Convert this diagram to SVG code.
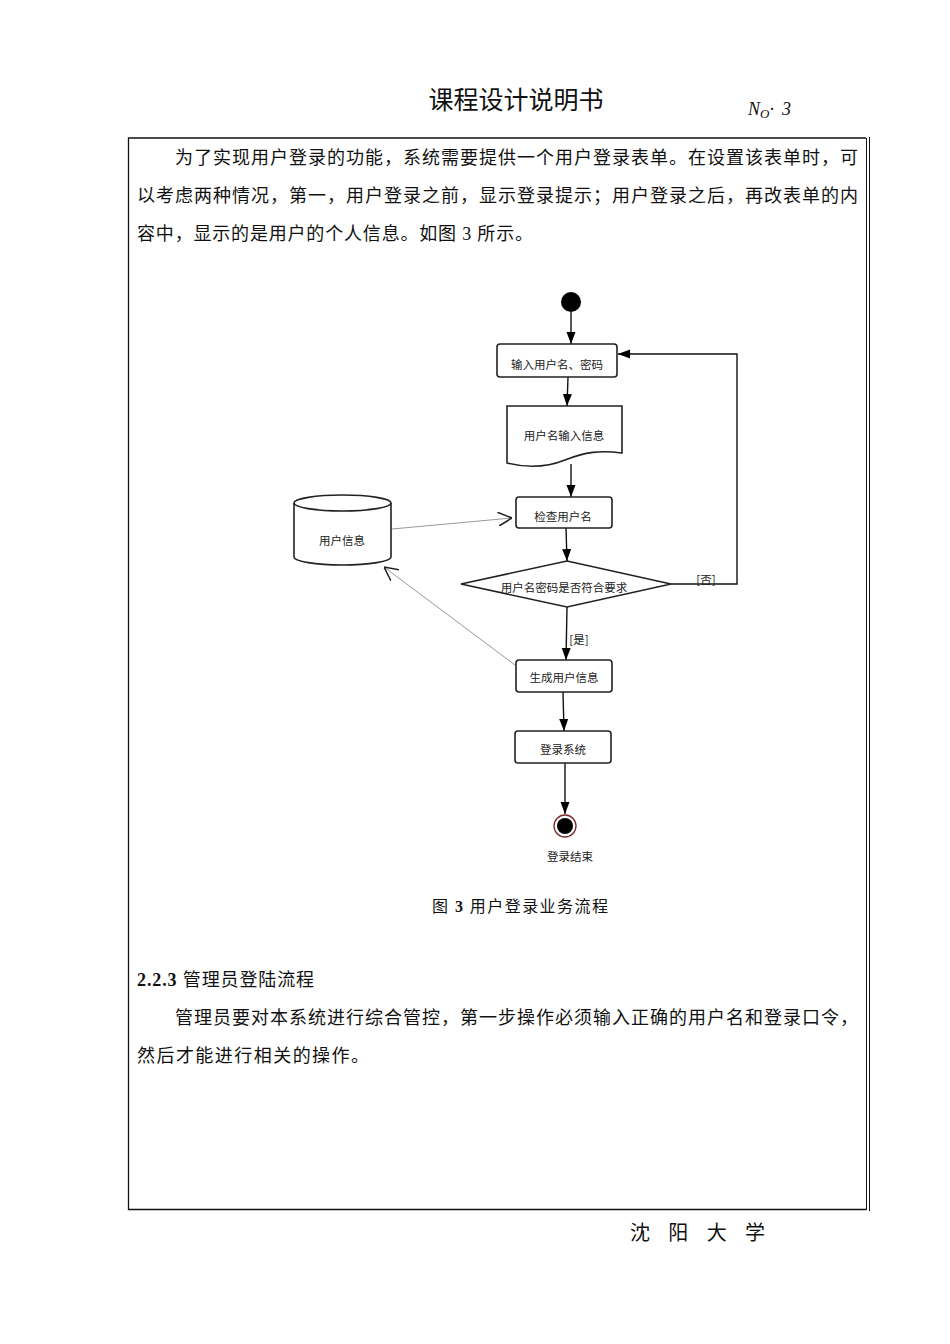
<svg xmlns="http://www.w3.org/2000/svg" width="950" height="1344" viewBox="0 0 950 1344">
<style>
.t{font-family:"Liberation Serif","Noto Sans CJK SC",serif;fill:#111}
.body{font-size:18px}
.d{font-family:"Noto Sans CJK SC","Liberation Sans",sans-serif;font-size:11.5px;fill:#222;text-anchor:middle}
.box{fill:#fff;stroke:#222;stroke-width:1.6}
.ln{fill:none;stroke:#111;stroke-width:1.4}
.gl{fill:none;stroke:#999;stroke-width:1}
</style>
<defs>
<marker id="ah" viewBox="0 0 12 10" refX="12" refY="5" markerWidth="12" markerHeight="10" orient="auto" markerUnits="userSpaceOnUse">
<path d="M0,0.5 L12,5 L0,9.5 z" fill="#000"/>
</marker>
<marker id="oa" viewBox="0 0 12 12" refX="12" refY="6" markerWidth="14" markerHeight="14" orient="auto" markerUnits="userSpaceOnUse">
<path d="M0,0 L12,6 L0,12" fill="none" stroke="#222" stroke-width="1.3"/>
</marker>
</defs>

<!-- page header -->
<text class="t" x="516" y="109" font-size="25" text-anchor="middle">课程设计说明书</text>
<text class="t" x="748" y="115" font-size="18" font-style="italic">N<tspan font-size="13" dy="3">O</tspan><tspan dy="-3">·</tspan><tspan dx="8">3</tspan></text>

<!-- frame -->
<g id="frame" fill="none" stroke="#111">
<polyline points="866,138 128.5,138 128.5,1209.5 866,1209.5" stroke-width="1.3"/>
<line x1="866.5" y1="138" x2="866.5" y2="1210" stroke-width="1"/>
<line x1="869.5" y1="137" x2="869.5" y2="1211" stroke-width="1"/>
</g>

<!-- paragraph 1 -->
<text class="t body" x="175" y="164" textLength="683" lengthAdjust="spacing">为了实现用户登录的功能，系统需要提供一个用户登录表单。在设置该表单时，可</text>
<text class="t body" x="137" y="202" textLength="721" lengthAdjust="spacing">以考虑两种情况，第一，用户登录之前，显示登录提示；用户登录之后，再改表单的内</text>
<text class="t body" x="137" y="240" textLength="396" lengthAdjust="spacing">容中，显示的是用户的个人信息。如图 3 所示。</text>

<!-- connectors -->
<g id="connectors">
<line class="ln" x1="571" y1="312" x2="571" y2="344" marker-end="url(#ah)"/>
<line class="ln" x1="568" y1="377" x2="567" y2="406" marker-end="url(#ah)"/>
<line class="ln" x1="571" y1="464" x2="571" y2="497" marker-end="url(#ah)"/>
<line class="ln" x1="566" y1="528" x2="567" y2="561" marker-end="url(#ah)"/>
<polyline class="ln" points="671,584 737,584 737,354 618,354" marker-end="url(#ah)"/>
<line class="ln" x1="567" y1="607" x2="566" y2="660" marker-end="url(#ah)"/>
<line class="ln" x1="563" y1="692" x2="564" y2="731" marker-end="url(#ah)"/>
<line class="ln" x1="565" y1="763" x2="565" y2="814" marker-end="url(#ah)"/>
<line class="gl" x1="392" y1="529" x2="512" y2="518" marker-end="url(#oa)"/>
<line class="gl" x1="515" y1="665" x2="384" y2="567" marker-end="url(#oa)"/>
<text class="d" x="706" y="584">[否]</text>
<text class="d" x="579" y="644">[是]</text>
</g>

<!-- nodes -->
<g id="start"><circle cx="571" cy="302" r="10" fill="#000"/></g>

<g id="input">
<rect class="box" x="497" y="344" width="120" height="33" rx="3"/>
<text class="d" x="557" y="369">输入用户名、密码</text>
</g>

<g id="doc">
<path class="box" d="M507,406 L622,406 L622,453 C600,450 585,452 565,460 C545,468 527,468 507,463 Z"/>
<text class="d" x="564" y="440">用户名输入信息</text>
</g>

<g id="check">
<rect class="box" x="516" y="497" width="96" height="31" rx="3"/>
<text class="d" x="563" y="521">检查用户名</text>
</g>

<g id="db">
<path class="box" d="M294,503 L294,557 A48.5,8 0 0 0 391,557 L391,503"/>
<ellipse class="box" cx="342.5" cy="503" rx="48.5" ry="8"/>
<text class="d" x="342" y="545">用户信息</text>
</g>

<g id="decision">
<polygon class="box" points="567,561 671,584 567,607 461,584"/>
<text class="d" x="564" y="592">用户名密码是否符合要求</text>
</g>

<g id="gen">
<rect class="box" x="516" y="660" width="96" height="32" rx="3"/>
<text class="d" x="564" y="682">生成用户信息</text>
</g>

<g id="login">
<rect class="box" x="515" y="731" width="96" height="32" rx="3"/>
<text class="d" x="563" y="754">登录系统</text>
</g>

<g id="end">
<circle cx="565" cy="826" r="11" fill="#fff" stroke="#7a2a2a" stroke-width="1.3"/>
<circle cx="565" cy="826" r="8" fill="#000"/>
<text class="d" x="570" y="861">登录结束</text>
</g>

<!-- caption & following text -->
<text class="t" x="432" y="912" font-size="16" textLength="176" lengthAdjust="spacing">图 <tspan font-weight="bold">3</tspan> 用户登录业务流程</text>
<text class="t body" x="137" y="986" textLength="177" lengthAdjust="spacing"><tspan font-weight="bold">2.2.3</tspan> 管理员登陆流程</text>
<text class="t body" x="175" y="1024" textLength="683" lengthAdjust="spacing">管理员要对本系统进行综合管控，第一步操作必须输入正确的用户名和登录口令，</text>
<text class="t body" x="137" y="1062" textLength="232" lengthAdjust="spacing">然后才能进行相关的操作。</text>

<text class="t" x="630" y="1240" font-size="20" textLength="135" lengthAdjust="spacing">沈 阳 大 学</text>
</svg>
